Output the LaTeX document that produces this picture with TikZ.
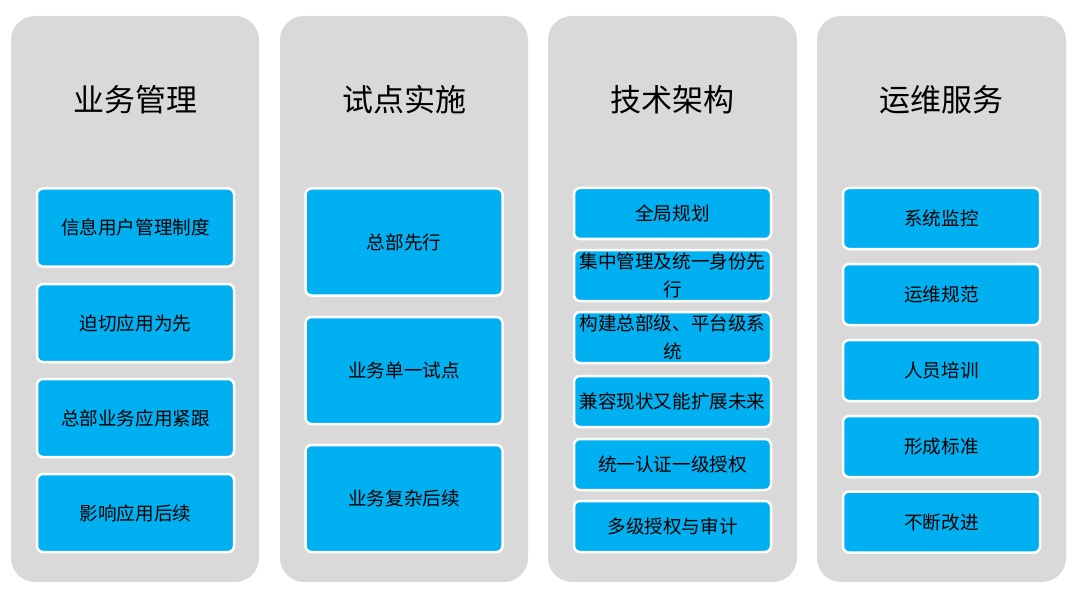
\documentclass[tikz,border=0pt]{standalone}
\usepackage{fontspec}
\setmainfont{Noto Sans CJK SC}
\usepackage{tikz}
\definecolor{panelgray}{HTML}{D9D9D9}
\definecolor{itemblue}{HTML}{00B0F0}

\begin{document}
\begin{tikzpicture}[x=1pt,y=-1pt,
    panel/.style={fill=panelgray, rounded corners=24pt},
    title/.style={font=\fontsize{31}{36}\selectfont},
    item/.style={draw=white, line width=2.5pt, fill=itemblue, rounded corners=6pt,
      minimum width=197pt, text width=195pt, inner sep=0pt, align=center,
      font=\fontsize{18.6}{28}\selectfont}]
        \useasboundingbox (0,0) rectangle (1080,591);
        % Panels
        \fill[panel] (11,16) rectangle (259,582);
        \fill[panel] (280,16) rectangle (528,582);
        \fill[panel] (548,16) rectangle (797,582);
        \fill[panel] (817,16) rectangle (1066,582);
        % Titles
        \node[title] (t1) at (135.5,100) {业务管理};
        \node[title] (t2) at (404,100) {试点实施};
        \node[title] (t3) at (672.5,100) {技术架构};
        \node[title] (t4) at (941.5,100) {运维服务};
        % Column 1
        \node[item, minimum height=78pt] (a1) at (135.5,227.5) {信息用户管理制度};
        \node[item, minimum height=78pt] (a2) at (135.5,323) {迫切应用为先};
        \node[item, minimum height=78pt] (a3) at (135.5,418) {总部业务应用紧跟};
        \node[item, minimum height=78pt] (a4) at (135.5,513) {影响应用后续};
        % Column 2
        \node[item, minimum height=107pt] (b1) at (404,242) {总部先行};
        \node[item, minimum height=107pt] (b2) at (404,370.5) {业务单一试点};
        \node[item, minimum height=107pt] (b3) at (404,498.5) {业务复杂后续};
        % Column 3
        \node[item, minimum height=51pt] (c1) at (672.5,213.5) {全局规划};
        \node[item, minimum height=51pt] (c2) at (672.5,275.5) {集中管理及统一身份先\\行};
        \node[item, minimum height=51pt] (c3) at (672.5,337.5) {构建总部级、平台级系\\统};
        \node[item, minimum height=51pt] (c4) at (672.5,401.5) {兼容现状又能扩展未来};
        \node[item, minimum height=51pt] (c5) at (672.5,464.5) {统一认证一级授权};
        \node[item, minimum height=51pt] (c6) at (672.5,526.5) {多级授权与审计};
        % Column 4
        \node[item, minimum height=61pt] (d1) at (941.5,218.5) {系统监控};
        \node[item, minimum height=61pt] (d2) at (941.5,294.5) {运维规范};
        \node[item, minimum height=61pt] (d3) at (941.5,370.5) {人员培训};
        \node[item, minimum height=61pt] (d4) at (941.5,446.5) {形成标准};
        \node[item, minimum height=61pt] (d5) at (941.5,522) {不断改进};
      \end{tikzpicture}
\end{document}
